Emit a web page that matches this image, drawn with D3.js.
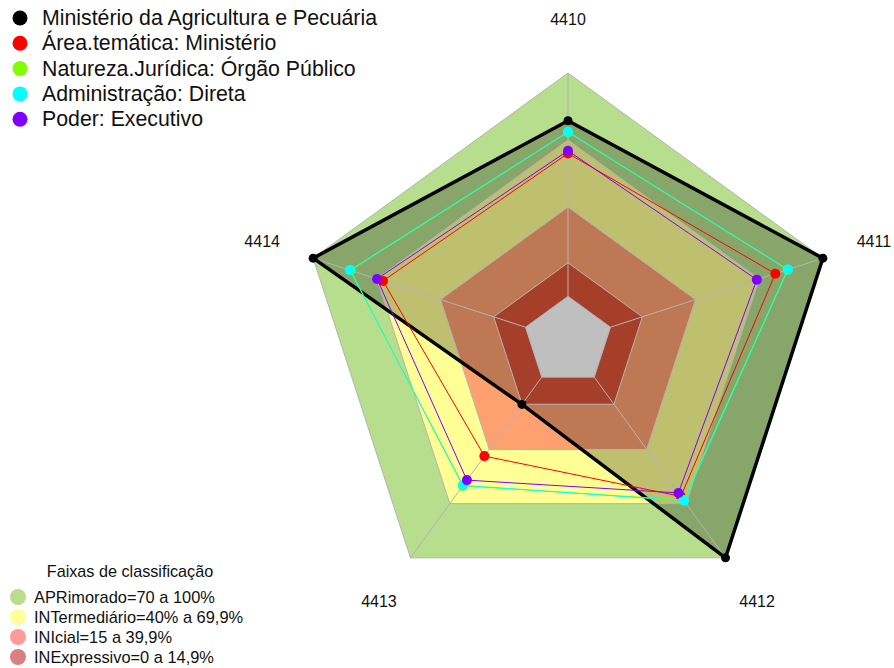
<!DOCTYPE html>
<html>
<head>
<meta charset="utf-8">
<script src="https://cdn.jsdelivr.net/npm/d3@7"></script>
<style>
  body { margin: 0; background: #fff; }
  svg { display: block; font-family: "Liberation Sans", Arial, sans-serif; }
</style>
</head>
<body>
<svg width="894" height="668"></svg>
<script>
// axes (clockwise from top)
var axes = ["4410", "4411", "4412", "4413", "4414"];

// series values in %
var seriesNames = ["Ministério da Agricultura e Pecuária", "Área.temática: Ministério",
  "Natureza.Jurídica: Órgão Público", "Administração: Direta", "Poder: Executivo"];
var seriesColors = ["#000000", "#ff0000", "#7fff00", "#00ffff", "#8000ff"];
var ministerio = [78.6, 100, 100, 15.1, 100];
var areaTematica = [64.0, 77.6, 66.0, 43.7, 67.1];
var natureza = [73.5, 83.4, 68.0, 60.2, 82.4];
var administracao = [73.7, 83.6, 68.4, 59.9, 82.7];
var poder = [65.2, 68.9, 64.1, 57.0, 69.9];
var seriesValues = [ministerio, areaTematica, natureza, administracao, poder];

// classification bands
var bandNames = ["APRimorado=70 a 100%", "INTermediário=40% a 69,9%", "INIcial=15 a 39,9%", "INExpressivo=0 a 14,9%"];
var bandMax = [100, 70, 40, 15];
var bandFill = ["#b6de8c", "#ffff96", "#ffa070", "#dc5437"];
var bandLegend = ["#b6de8c", "#ffff99", "#ff9a9a", "#d98080"];

var svg = d3.select("svg");
var cx = 568, cy = 341, R = 268;

var rScale = d3.scaleLinear().domain([0, 100]).range([R / 6, R]);
var aScale = d3.scaleLinear().domain([0, axes.length]).range([0, 2 * Math.PI]);

var radial = d3.lineRadial()
  .angle(function(d, i) { return aScale(i); })
  .radius(function(d) { return rScale(d); })
  .curve(d3.curveLinearClosed);

function pt(v, i) {
  var a = aScale(i), r = rScale(v);
  return [r * Math.sin(a), -r * Math.cos(a)];
}

var g = svg.append("g").attr("transform", "translate(" + cx + "," + cy + ")");

// bands
bandMax.forEach(function(m, k) {
  g.append("path")
    .attr("d", radial(axes.map(function() { return m; })))
    .attr("fill", bandFill[k]);
});

// black series fill
g.append("path")
  .attr("d", radial(ministerio))
  .attr("fill", "rgba(0,0,0,0.25)");

// gray centre
g.append("path")
  .attr("d", radial(axes.map(function() { return 0; })))
  .attr("fill", "#bfbfbf");

// grid
bandMax.concat([0]).forEach(function(m) {
  g.append("path")
    .attr("d", radial(axes.map(function() { return m; })))
    .attr("fill", "none")
    .attr("stroke", "#b4b4b4")
    .attr("stroke-width", 1);
});
axes.forEach(function(a, i) {
  var p0 = pt(0, i), p1 = pt(100, i);
  g.append("line")
    .attr("x1", p0[0]).attr("y1", p0[1])
    .attr("x2", p1[0]).attr("y2", p1[1])
    .attr("stroke", "#b4b4b4")
    .attr("stroke-width", 1);
});

// series lines and points
seriesValues.forEach(function(vals, s) {
  g.append("path")
    .attr("d", radial(vals))
    .attr("fill", "none")
    .attr("stroke", seriesColors[s])
    .attr("stroke-width", s == 0 ? 3.5 : 1)
    .attr("stroke-linejoin", "round");
  g.selectAll(null)
    .data(vals)
    .enter()
    .append("circle")
      .attr("cx", function(d, i) { return pt(d, i)[0]; })
      .attr("cy", function(d, i) { return pt(d, i)[1]; })
      .attr("r", s == 0 ? 4.5 : 5)
      .attr("fill", seriesColors[s]);
});

// axis labels
axes.forEach(function(a, i) {
  var a2 = aScale(i), r = R * 1.2;
  g.append("text")
    .attr("x", r * Math.sin(a2))
    .attr("y", -r * Math.cos(a2))
    .attr("text-anchor", "middle")
    .attr("dominant-baseline", "central")
    .attr("font-size", 16)
    .attr("fill", "#111")
    .text(a);
});

// top legend
var leg = svg.append("g");
seriesNames.forEach(function(n, i) {
  var y = 18 + i * 25.3;
  leg.append("circle").attr("cx", 20).attr("cy", y).attr("r", 7.5).attr("fill", seriesColors[i]);
  leg.append("text").attr("x", 42).attr("y", y).attr("dominant-baseline", "central")
    .attr("font-size", 21.3).attr("fill", "#111").text(n);
});

// band legend
var bl = svg.append("g");
bl.append("text").attr("x", 130).attr("y", 571).attr("text-anchor", "middle")
  .attr("dominant-baseline", "central").attr("font-size", 16.2).attr("fill", "#111")
  .text("Faixas de classificação");
bandNames.forEach(function(n, i) {
  var y = 597 + i * 20;
  bl.append("circle").attr("cx", 18).attr("cy", y).attr("r", 8).attr("fill", bandLegend[i]);
  bl.append("text").attr("x", 34).attr("y", y).attr("dominant-baseline", "central")
    .attr("font-size", 16.4).attr("fill", "#111").text(n);
});
</script>
</body>
</html>
